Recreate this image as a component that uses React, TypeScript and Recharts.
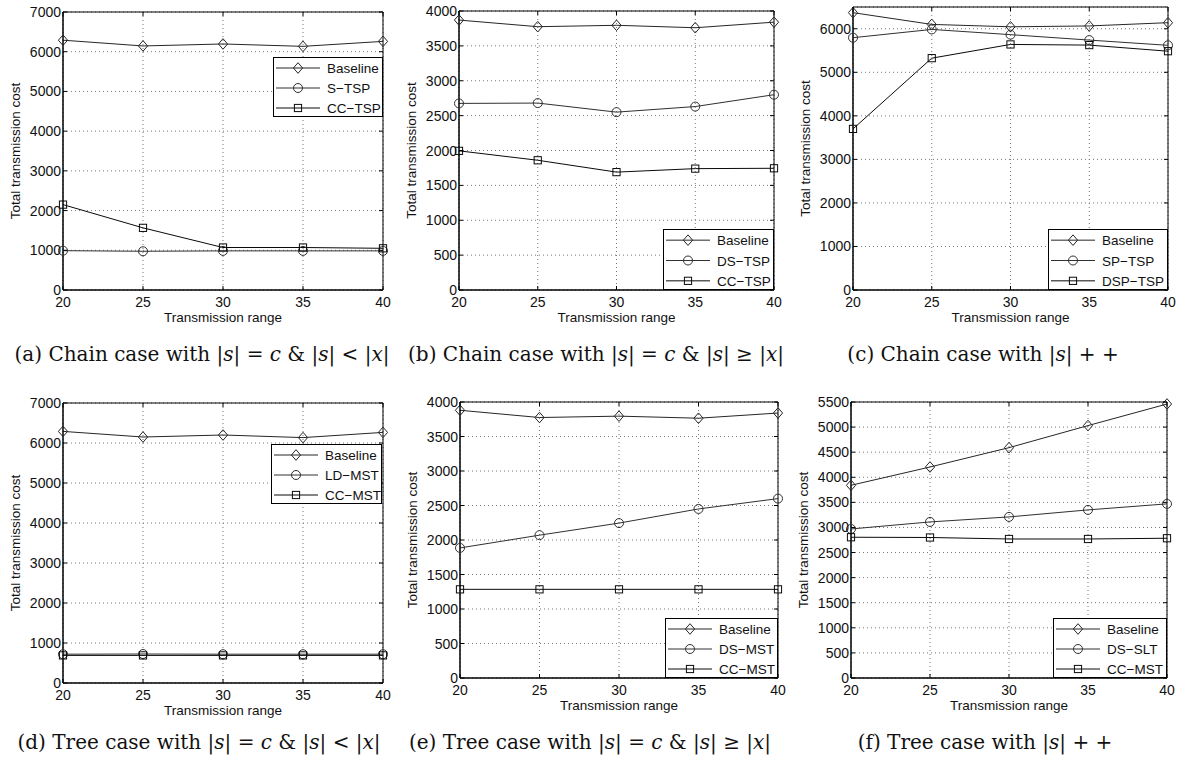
import React from "react";
import { LineChart, Line, XAxis, YAxis, CartesianGrid, Legend, Label, ReferenceArea } from "recharts";

// transmission range (x axis) shared by every panel
const ranges = [20, 25, 30, 35, 40];

// (a) chain, |s| = c & |s| < |x|
const aBaseline = [6290, 6145, 6195, 6135, 6260];
const aSTsp = [990, 975, 985, 985, 985];
const aCcTsp = [2150, 1565, 1070, 1070, 1050];
const aNames = ["Baseline", "S\u2212TSP", "CC\u2212TSP"];

// (b) chain, |s| = c & |s| >= |x|
const bBaseline = [3870, 3775, 3795, 3760, 3840];
const bDsTsp = [2675, 2680, 2550, 2630, 2800];
const bCcTsp = [1995, 1860, 1690, 1740, 1745];
const bNames = ["Baseline", "DS\u2212TSP", "CC\u2212TSP"];

// (c) chain, |s|++
const cBaseline = [6370, 6100, 6045, 6065, 6140];
const cSpTsp = [5795, 5985, 5865, 5740, 5620];
const cDspTsp = [3700, 5325, 5640, 5625, 5485];
const cNames = ["Baseline", "SP\u2212TSP", "DSP\u2212TSP"];

// (d) tree, |s| = c & |s| < |x|
const dBaseline = [6290, 6150, 6200, 6135, 6265];
const dLdMst = [720, 725, 720, 720, 720];
const dCcMst = [690, 690, 690, 690, 690];
const dNames = ["Baseline", "LD\u2212MST", "CC\u2212MST"];

// (e) tree, |s| = c & |s| >= |x|
const eBaseline = [3880, 3775, 3795, 3765, 3840];
const eDsMst = [1885, 2070, 2245, 2450, 2600];
const eCcMst = [1285, 1285, 1285, 1285, 1285];
const eNames = ["Baseline", "DS\u2212MST", "CC\u2212MST"];

// (f) tree, |s|++
const fBaseline = [3840, 4205, 4590, 5030, 5460];
const fDsSlt = [2970, 3110, 3210, 3350, 3470];
const fCcMst = [2805, 2800, 2770, 2770, 2785];
const fNames = ["Baseline", "DS\u2212SLT", "CC\u2212MST"];

const ticks7000 = [0, 1000, 2000, 3000, 4000, 5000, 6000, 7000];
const ticks4000 = [0, 500, 1000, 1500, 2000, 2500, 3000, 3500, 4000];
const ticks6000 = [0, 1000, 2000, 3000, 4000, 5000, 6000];
const ticks5500 = [0, 500, 1000, 1500, 2000, 2500, 3000, 3500, 4000, 4500, 5000, 5500];

const markers = ["diamond", "circle", "square"];
const lineColors = ["#262626", "#303030", "#0a0a0a"];

const YW = 70;
const XH = 40;
const FONT = "'Liberation Sans', Arial, Helvetica, sans-serif";

function Marker({ kind, cx, cy, color }: any) {
  if (kind === "diamond")
    return <path d={`M${cx},${cy - 5.3}L${cx + 4.6},${cy}L${cx},${cy + 5.3}L${cx - 4.6},${cy}Z`} fill="none" stroke={color} strokeWidth={1} />;
  if (kind === "square")
    return <rect x={cx - 3.6} y={cy - 3.6} width={7.2} height={7.2} fill="none" stroke={color} strokeWidth={1} />;
  return <circle cx={cx} cy={cy} r={4.5} fill="none" stroke={color} strokeWidth={1} />;
}

function LegendBox({ names, w, h }: any) {
  const rowH = h / 3;
  return (
    <div style={{ width: w, height: h, boxSizing: "border-box", border: "1px solid #000", background: "#fff" }}>
      <svg width={w - 2} height={h - 2} style={{ display: "block" }}>
        {names.map((n: string, i: number) => {
          const cy = rowH * i + rowH / 2;
          return (
            <g key={n}>
              <line x1={2} x2={46} y1={cy} y2={cy} stroke={lineColors[i]} strokeWidth={1} />
              <Marker kind={markers[i]} cx={24} cy={cy} color={lineColors[i]} />
              <text x={53} y={cy + 5} fill="#111" fontSize={13.5} fontFamily={FONT}>{n}</text>
            </g>
          );
        })}
      </svg>
    </div>
  );
}

function Panel({ plot, yMax, yTicks, series, names, legend, caption }: any) {
  const pw = plot.r - plot.l;
  const ph = plot.b - plot.t;
  const left = plot.l - YW;
  const top = plot.t - 10;
  const width = pw + YW + 10;
  const height = ph + 10 + XH + 5;
  const data = ranges.map((x, i) => ({ x, s0: series[0][i], s1: series[1][i], s2: series[2][i] }));

  const yTick = (p: any) => {
    const y = p.y;
    const x0 = p.x + 3;
    return (
      <g key={`yt${p.index}`}>
        <line x1={x0} x2={x0 + 4} y1={y} y2={y} stroke="#000" />
        <line x1={x0 + pw - 4} x2={x0 + pw} y1={y} y2={y} stroke="#000" />
        <text x={p.x + 1} y={y + 5} textAnchor="end" fontSize={14} fontFamily={FONT} fill="#111">{p.payload.value}</text>
      </g>
    );
  };
  const xTick = (p: any) => {
    const x = p.x;
    const yb = p.y - 4;
    return (
      <g key={`xt${p.index}`}>
        <line x1={x} x2={x} y1={yb} y2={yb - 4} stroke="#000" />
        <line x1={x} x2={x} y1={yb - ph} y2={yb - ph + 4} stroke="#000" />
        <text x={x} y={yb + 17} textAnchor="middle" fontSize={14} fontFamily={FONT} fill="#111">{p.payload.value}</text>
      </g>
    );
  };

  return (
    <>
      <div style={{ position: "absolute", left, top }}>
        <LineChart width={width} height={height} data={data} margin={{ top: 10, right: 10, left: 0, bottom: 5 }}>
          <CartesianGrid stroke="#777" strokeDasharray="1 3" />
          <XAxis dataKey="x" type="number" domain={[20, 40]} ticks={ranges} height={XH} tickSize={0} tickMargin={4}
            axisLine={{ stroke: "#000" }} tick={xTick} interval={0}>
            <Label content={(p: any) => {
              const vb = p.viewBox;
              return <text x={vb.x + vb.width / 2} y={vb.y + 32} textAnchor="middle" fontSize={13.5} fontFamily={FONT} fill="#111">Transmission range</text>;
            }} />
          </XAxis>
          <YAxis type="number" domain={[0, yMax]} ticks={yTicks} width={YW} tickSize={0} tickMargin={3}
            axisLine={{ stroke: "#000" }} tick={yTick} interval={0}>
            <Label content={(p: any) => {
              const vb = p.viewBox;
              const cx = vb.x + vb.width - 43;
              const cy = vb.y + vb.height / 2;
              return <text x={cx} y={cy} transform={`rotate(-90, ${cx}, ${cy})`} textAnchor="middle" fontSize={13.5} fontFamily={FONT} fill="#111">Total transmission cost</text>;
            }} />
          </YAxis>
          <ReferenceArea x1={20} x2={40} y1={0} y2={yMax} fill="none" stroke="#000" strokeWidth={1} />
          {[0, 1, 2].map((i) => (
            <Line key={i} dataKey={`s${i}`} name={names[i]} stroke={lineColors[i]} strokeWidth={1} isAnimationActive={false}
              dot={(p: any) => <Marker key={`m${i}-${p.index}`} kind={markers[i]} cx={p.cx} cy={p.cy} color={lineColors[i]} />} />
          ))}
          <Legend layout="vertical" align="center" verticalAlign="middle"
            wrapperStyle={{ left: legend.x - left, top: legend.y - top, width: legend.w }}
            content={() => <LegendBox names={names} w={legend.w} h={legend.h} />} />
        </LineChart>
      </div>
      <div style={{ position: "absolute", left: caption.cx - 220, top: caption.base - 17, width: 440, textAlign: "center",
        fontFamily: "'DejaVu Serif', 'Liberation Serif', serif", fontSize: 20, lineHeight: "20px", color: "#111", whiteSpace: "nowrap" }}>
        {caption.text}
      </div>
    </>
  );
}

const I = ({ children }: any) => <i>{children}</i>;
const eqCase = (label: string, kind: string, rel: string) => (
  <>({label}) {kind} case with |<I>s</I>| = <I>c</I> &amp; |<I>s</I>| {rel} |<I>x</I>|</>
);
const incCase = (label: string, kind: string) => (
  <>({label}) {kind} case with |<I>s</I>| + +</>
);

export default function App() {
  return (
    <div style={{ position: "absolute", left: 0, top: 0, width: 1177, height: 758, background: "#fff", overflow: "hidden" }}>
      <Panel plot={{ l: 63, t: 12, r: 383, b: 290 }} yMax={7000} yTicks={ticks7000} series={[aBaseline, aSTsp, aCcTsp]} names={aNames}
        legend={{ x: 273, y: 57, w: 110, h: 60 }} caption={{ cx: 202, base: 361, text: eqCase("a", "Chain", "<") }} />
      <Panel plot={{ l: 459, t: 11, r: 774, b: 290 }} yMax={4000} yTicks={ticks4000} series={[bBaseline, bDsTsp, bCcTsp]} names={bNames}
        legend={{ x: 663, y: 229, w: 111, h: 61 }} caption={{ cx: 596, base: 361, text: eqCase("b", "Chain", "\u2265") }} />
      <Panel plot={{ l: 853, t: 7, r: 1168, b: 290 }} yMax={6500} yTicks={ticks6000} series={[cBaseline, cSpTsp, cDspTsp]} names={cNames}
        legend={{ x: 1048, y: 229, w: 120, h: 61 }} caption={{ cx: 983, base: 361, text: incCase("c", "Chain") }} />
      <Panel plot={{ l: 63, t: 403, r: 383, b: 683 }} yMax={7000} yTicks={ticks7000} series={[dBaseline, dLdMst, dCcMst]} names={dNames}
        legend={{ x: 271, y: 444, w: 111, h: 60 }} caption={{ cx: 199, base: 749, text: eqCase("d", "Tree", "<") }} />
      <Panel plot={{ l: 460, t: 402, r: 778, b: 678 }} yMax={4000} yTicks={ticks4000} series={[eBaseline, eDsMst, eCcMst]} names={eNames}
        legend={{ x: 665, y: 618, w: 113, h: 60 }} caption={{ cx: 590, base: 749, text: eqCase("e", "Tree", "\u2265") }} />
      <Panel plot={{ l: 851, t: 402, r: 1167, b: 678 }} yMax={5500} yTicks={ticks5500} series={[fBaseline, fDsSlt, fCcMst]} names={fNames}
        legend={{ x: 1053, y: 618, w: 114, h: 60 }} caption={{ cx: 985, base: 749, text: incCase("f", "Tree") }} />
    </div>
  );
}
